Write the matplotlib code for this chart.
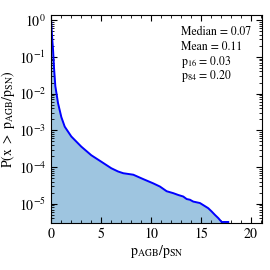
import matplotlib
matplotlib.use('Agg')
import matplotlib.pyplot as plt
from matplotlib.ticker import LogLocator, MultipleLocator, NullFormatter

plt.rcParams['mathtext.fontset'] = 'stix'
plt.rcParams['font.family'] = ['STIXGeneral', 'Liberation Serif', 'DejaVu Serif']

# ratio p_AGB/p_SN and complementary cumulative fraction
ratio = [0, 0.03, 0.07, 0.13, 0.2, 0.3, 0.43, 0.55, 0.7, 1.03, 1.37, 2.03, 3.03,
         4.03, 5.03, 6.03, 6.7, 7.23, 8.23, 9.23, 10.23, 10.9, 11.57, 12.23,
         12.73, 13.23, 13.57, 13.9, 14.23, 14.9, 15.73, 16.07, 16.4, 16.73,
         17.07, 17.73]
prob = [1.0, 0.84, 0.5, 0.28, 0.16, 0.05, 0.016, 0.01, 5.5e-3, 2.3e-3, 1.26e-3,
        6.8e-4, 3.6e-4, 2.1e-4, 1.4e-4, 9.3e-5, 7.6e-5, 6.8e-5, 6.2e-5, 4.7e-5,
        3.6e-5, 2.95e-5, 2.2e-5, 1.95e-5, 1.74e-5, 1.58e-5, 1.35e-5, 1.29e-5,
        1.15e-5, 1.05e-5, 7.6e-6, 6.2e-6, 5.0e-6, 4.1e-6, 3.2e-6, 3.2e-6]

stat_names = ['Median', 'Mean', 'p$_{16}$', 'p$_{84}$']
stat_values = ['0.07', '0.11', '0.03', '0.20']

fig = plt.figure(figsize=(2.7, 2.7), dpi=100)
ax = fig.add_axes([0.189, 0.174, 0.781, 0.770])

ax.fill_between(ratio, prob, 1e-7, color='#9ec5e0', lw=0)
ax.plot(ratio, prob, color='#0000ff', lw=1.4)

ax.set_yscale('log')
ax.set_xlim(0, 21.1)
ax.set_ylim(3e-6, 1.37)

ax.xaxis.set_major_locator(MultipleLocator(5))
ax.xaxis.set_minor_locator(MultipleLocator(1))
ax.yaxis.set_major_locator(LogLocator(base=10, numticks=10))
ax.yaxis.set_minor_locator(LogLocator(base=10, subs=range(2, 10), numticks=20))
ax.yaxis.set_minor_formatter(NullFormatter())
ax.tick_params(which='both', direction='in', top=True, right=True, labelsize=10)
ax.tick_params(which='major', length=4)
ax.tick_params(which='minor', length=2)

ax.set_xlabel(r'$\mathrm{p}_{\mathrm{AGB}}/\mathrm{p}_{\mathrm{SN}}$', fontsize=10, labelpad=1)
ax.set_ylabel(r'$\mathrm{P(x\ >\ p}_{\mathrm{AGB}}\mathrm{/p}_{\mathrm{SN}})$', fontsize=10, labelpad=1)

for i, (name, val) in enumerate(zip(stat_names, stat_values)):
    ax.text(0.616, 0.918 - i * 0.071, name + ' = ' + val, transform=ax.transAxes,
            fontsize=8.5, va='center', ha='left')

fig.savefig('out.png', dpi=100)
